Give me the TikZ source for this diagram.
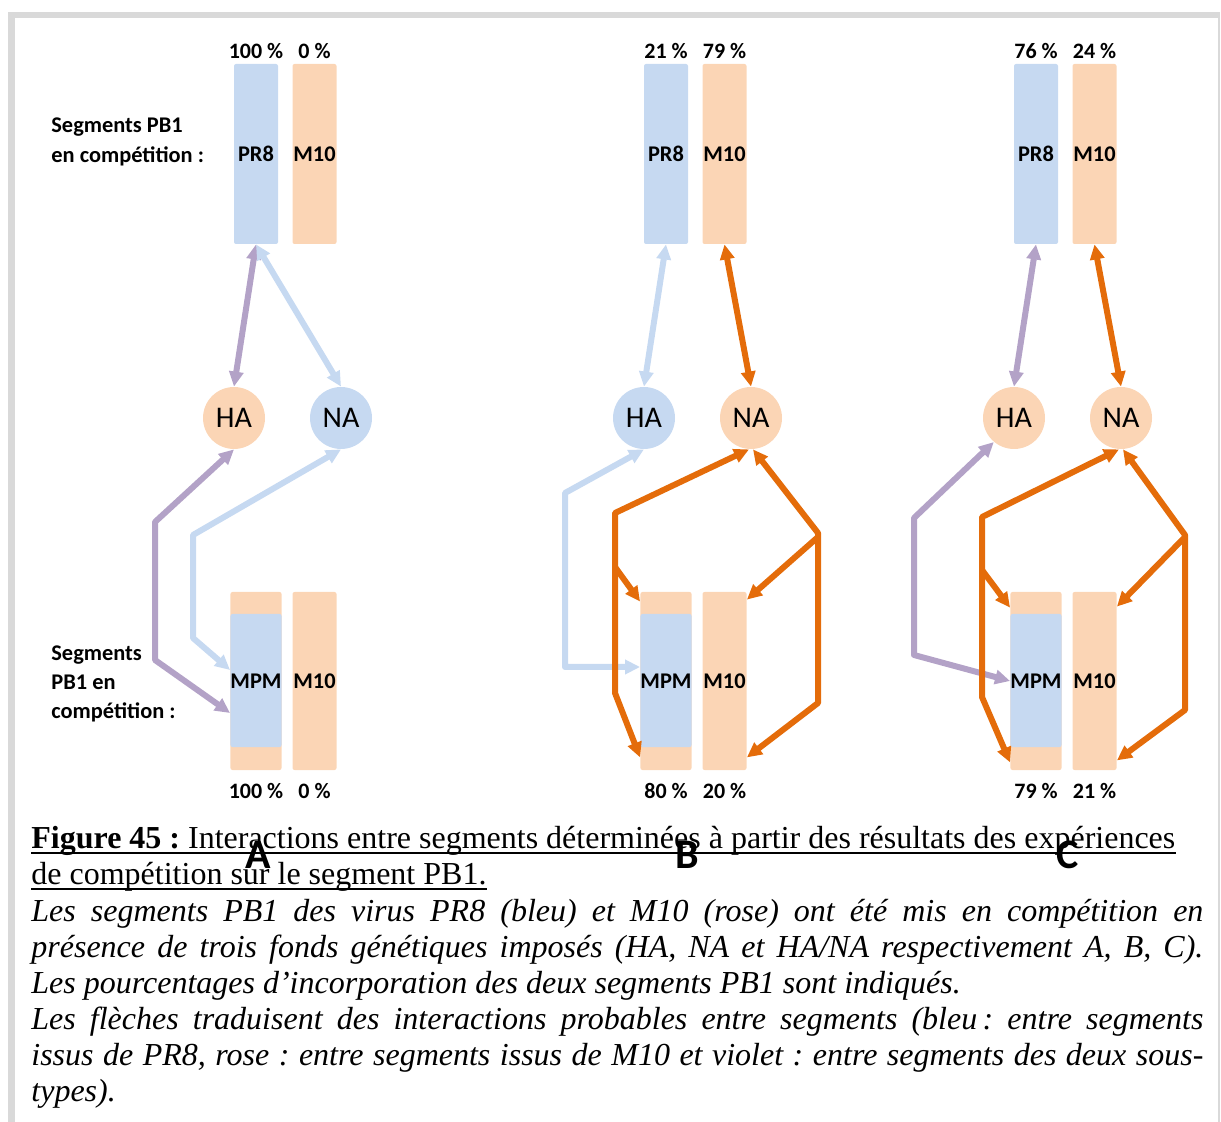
\documentclass[tikz,border=0pt]{standalone}
\usepackage{fontspec}
\setmainfont{Liberation Serif}
\newfontfamily\calibri{Carlito}
\usetikzlibrary{arrows.meta,positioning}
\definecolor{pr8fill}{HTML}{C6D9F1}
\definecolor{m10fill}{HTML}{FBD5B5}
\definecolor{m10line}{HTML}{E46C0A}
\definecolor{mixline}{HTML}{B3A2C7}
\definecolor{framegray}{HTML}{D9D9D9}
\frenchspacing

\begin{document}
\begin{tikzpicture}[
x=0.5pt, y=-0.5pt,
node distance=3pt,
bar/.style={minimum width=22pt, minimum height=90pt, inner sep=0pt, rounded corners=1pt, font=\calibri\bfseries\fontsize{11.2}{13}\selectfont},
pr8bar/.style={bar, fill=pr8fill},
m10bar/.style={bar, fill=m10fill},
mpmbar/.style={m10bar, minimum height=89pt, path picture={\fill[pr8fill] ([yshift=-11pt]path picture bounding box.north west) rectangle ([yshift=11.5pt]path picture bounding box.south east);}},
segcircle/.style={circle, minimum size=31pt, inner sep=0pt, font=\calibri\fontsize{15}{18}\selectfont},
pct/.style={inner sep=0pt, font=\calibri\bfseries\fontsize{11}{13}\selectfont},
sidetext/.style={anchor=west, align=left, inner sep=0pt, font=\calibri\bfseries\fontsize{11.2}{15}\selectfont},
panel/.style={inner sep=0pt, font=\calibri\bfseries\fontsize{21}{24}\selectfont},
capline/.style={anchor=base west, inner sep=0pt, font=\fontsize{16}{18}\selectfont},
capit/.style={capline, font=\fontsize{16}{18}\selectfont\itshape},
link/.style={line width=3pt, line join=round},
both/.style={{Triangle[length=7.5pt,width=7pt]}-{Triangle[length=7.5pt,width=7pt]}},
tip/.style={-{Triangle[length=7.5pt,width=7pt]}},
pr8arrow/.style={link, draw=pr8fill},
m10arrow/.style={link, draw=m10line},
mixarrow/.style={link, draw=mixline}
]
\useasboundingbox (0,0) rectangle (1221,1122);
% frame
\fill[framegray] (8,12) rectangle (1220,18);
\fill[framegray] (8,12) rectangle (15,1122);
\fill[framegray] (1218,12) rectangle (1220,1122);

% bars, circles and percentages of the three panels
\foreach \p/\x/\hc/\nc/\ta/\tb/\ba/\bb/\lx in {A/256/m10fill/pr8fill/100/0/100/0/258, B/666/pr8fill/m10fill/21/79/80/20/687, C/1036/m10fill/m10fill/76/24/79/21/1068}{
  \node[pr8bar] (pr8\p) at (\x,154) {PR8};
  \node[m10bar] (m10\p) at ({\x+58.5},154) {M10};
  \node[pct, above=2.5pt of pr8\p] (ptl\p) {\ta\ \%};
  \node[pct, above=2.5pt of m10\p] (ptr\p) {\tb\ \%};
  \node[segcircle, fill=\hc] (ha\p) at ({\x-22},418) {HA};
  \node[segcircle, fill=\nc] (na\p) at ({\x+85},418) {NA};
  \node[mpmbar] (mpm\p) at (\x,681) {MPM};
  \node[m10bar, minimum height=89pt] (mb\p) at ({\x+58.5},681) {M10};
  \node[pct, below=6.5pt of mpm\p] (pbl\p) {\ba\ \%};
  \node[pct, below=6.5pt of mb\p] (pbr\p) {\bb\ \%};
  \node[panel] (lab\p) at (\lx,855) {\p};
}

\node[sidetext] (topside) at (51,142) {Segments PB1\\en compétition :};
\node[sidetext, font=\calibri\bfseries\fontsize{11.2}{14.5}\selectfont] (botside) at (51,684) {Segments\\PB1 en\\compétition :};

% free ends of the branching arrows
\coordinate (forkBl) at (615,567);
\coordinate (forkBr) at (818,537);
\coordinate (forkCl) at (982,570);
\coordinate (forkCr) at (1185,537);

% panel A
\draw[mixarrow, both] (pr8A.south) -- (haA.north);
\draw[pr8arrow, both] (pr8A.south) -- (naA.north);
\draw[mixarrow, both] (haA.south) -- (155,522) -- (155,660) -- ([yshift=-16pt]mpmA.west);
\draw[pr8arrow, both] (naA.south) -- (193,535) -- (193,638) -- ([yshift=5.5pt]mpmA.west);

% panel B
\draw[pr8arrow, both] (pr8B.south) -- (haB.north);
\draw[m10arrow, both] (m10B.south) -- (naB.north);
\draw[pr8arrow, both] (haB.south) -- (565,493) -- (565,667) -- ([yshift=7pt]mpmB.west);
\draw[m10arrow, both] ([xshift=-1pt]naB.south) -- (615,513) -- (615,693) -- ([yshift=6.5pt]mpmB.south west);
\draw[m10arrow, tip] (forkBl) -- ([yshift=-5pt]mpmB.north west);
\draw[m10arrow, both] ([xshift=1pt]naB.south) -- (818,533) -- (818,703) -- ([yshift=6.5pt]mbB.south east);
\draw[m10arrow, tip] (forkBr) -- ([yshift=-4pt]mbB.north east);

% panel C
\draw[mixarrow, both] (pr8C.south) -- (haC.north);
\draw[m10arrow, both] (m10C.south) -- (naC.north);
\draw[mixarrow, both] (haC.-130) -- (914,518) -- (914,655) -- (mpmC.west);
\draw[m10arrow, both] ([xshift=-1pt]naC.south) -- (982,517) -- (982,697) -- ([yshift=4pt]mpmC.south west);
\draw[m10arrow, tip] (forkCl) -- ([yshift=-8pt]mpmC.north west);
\draw[m10arrow, both] ([xshift=1pt]naC.south) -- (1185,535) -- (1185,710) -- ([yshift=5pt]mbC.south east);
\draw[m10arrow, tip] (forkCr) -- ([yshift=-7.5pt]mbC.north east);

% caption
\node[capline] (cap1) at (31,848) {{\bfseries Figure 45 :} Interactions entre segments déterminées à partir des résultats des expériences};
\node[capline] (cap2) at (31,884) {de compétition sur le segment PB1.};
\draw[line width=1pt] ([yshift=-2.5pt]cap1.base west) -- ([yshift=-2.5pt]cap1.base east);
\draw[line width=1pt] ([yshift=-2.5pt]cap2.base west) -- ([yshift=-2.5pt]cap2.base east);
\node[capit] (cap3) at (31,921) {\makebox[586pt][s]{Les segments PB1 des virus PR8 (bleu) et M10 (rose) ont été mis en compétition en}};
\node[capit] (cap4) at (31,957) {\makebox[586pt][s]{présence de trois fonds génétiques imposés (HA, NA et HA/NA respectivement A, B, C).}};
\node[capit] (cap5) at (31,993) {Les pourcentages d’incorporation des deux segments PB1 sont indiqués.};
\node[capit] (cap6) at (31,1029) {\makebox[586pt][s]{Les flèches traduisent des interactions probables entre segments (bleu\,: entre segments}};
\node[capit] (cap7) at (31,1065) {\makebox[586pt][s]{issus de PR8, rose : entre segments issus de M10 et violet : entre segments des deux sous-}};
\node[capit] (cap8) at (31,1101) {types).};
\end{tikzpicture}
\end{document}
